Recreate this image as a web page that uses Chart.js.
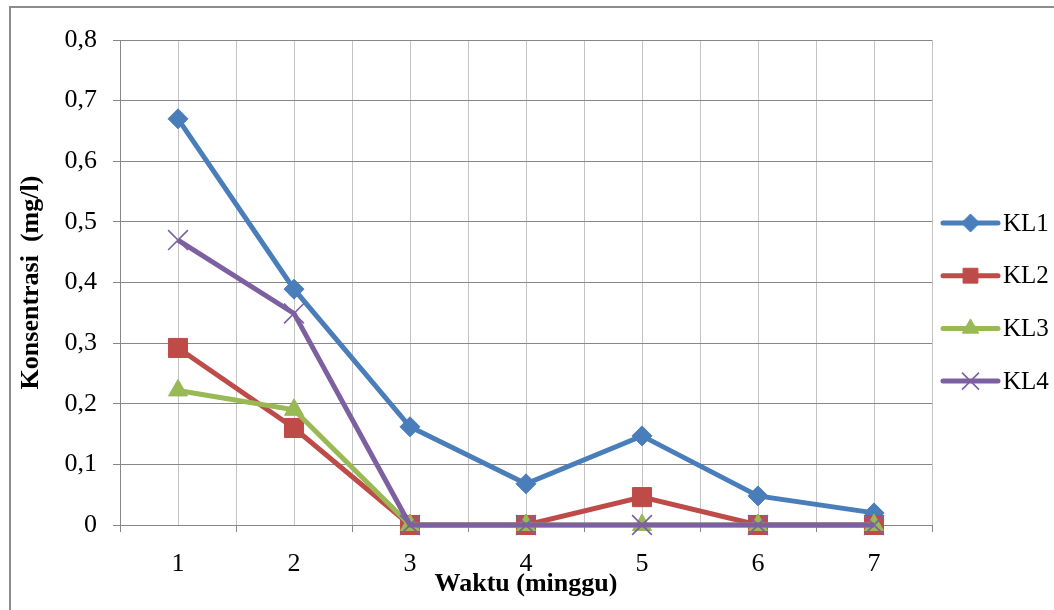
<!DOCTYPE html>
<html>
<head>
<meta charset="utf-8">
<title>Konsentrasi</title>
<script src="https://cdn.jsdelivr.net/npm/chart.js@4.4.1/dist/chart.umd.min.js"></script>
<style>
  html, body { margin: 0; padding: 0; background: #ffffff; }
  #wrap { width: 1054px; height: 610px; position: relative; }
</style>
</head>
<body>
<div id="wrap"><canvas id="chart" width="1054" height="610"></canvas></div>
<script>
// Week numbers along the x axis
const categories = ['1', '2', '3', '4', '5', '6', '7'];

// Concentration per sampling location (mg/l)
const seriesNames = ['KL1', 'KL2', 'KL3', 'KL4'];
const kl1 = [0.67, 0.389, 0.162, 0.068, 0.147, 0.048, 0.02];
const kl2 = [0.292, 0.16, 0, 0, 0.046, 0, 0];
const kl3 = [0.222, 0.19, 0, 0, 0, 0, 0];
const kl4 = [0.47, 0.349, 0, 0, 0, 0, 0];

// Y axis tick labels (comma decimals)
const yTickLabels = ['0', '0,1', '0,2', '0,3', '0,4', '0,5', '0,6', '0,7', '0,8'];

const SERIF = '"Liberation Serif", "Times New Roman", serif';
const AXIS_GRAY = '#878787';
const GRID_LIGHT = '#c4c4c4';

const styles = [
  { color: '#4a7ebb', point: 'rectRot',  radius: 10,   legendRadius: 9,    pbw: 1 },
  { color: '#be4b48', point: 'rect',     radius: 13.5, legendRadius: 10.5, pbw: 1 },
  { color: '#98b954', point: 'triangle', radius: 11,   legendRadius: 9.5,  pbw: 1 },
  { color: '#7d60a0', point: 'crossRot', radius: 14,   legendRadius: 12,   pbw: 1.6 }
];

const seriesValues = [kl1, kl2, kl3, kl4];

const datasets = seriesValues.map((vals, i) => ({
  label: seriesNames[i],
  data: vals.map((v, j) => ({ x: j + 1, y: v })),
  borderColor: styles[i].color,
  backgroundColor: styles[i].color,
  borderWidth: 5,
  pointStyle: styles[i].point,
  pointRadius: styles[i].radius,
  pointBorderWidth: styles[i].pbw,
  pointBorderColor: styles[i].color,
  pointBackgroundColor: styles[i].color,
  pointHoverRadius: styles[i].radius,
  tension: 0,
  clip: false,
  order: seriesValues.length - 1 - i
}));

// Frame line along the top and left of the figure
const framePlugin = {
  id: 'frame',
  beforeDraw(chart) {
    const ctx = chart.ctx;
    ctx.save();
    ctx.fillStyle = '#ffffff';
    ctx.fillRect(0, 0, chart.width, chart.height);
    ctx.strokeStyle = '#8c8c8c';
    ctx.lineWidth = 2;
    ctx.beginPath();
    ctx.moveTo(10, chart.height + 5);
    ctx.lineTo(10, 7);
    ctx.lineTo(chart.width + 5, 7);
    ctx.stroke();
    ctx.restore();
  }
};

// Legend on the right: line sample with marker, then the series name
const legendPlugin = {
  id: 'sideLegend',
  afterDraw(chart) {
    const ctx = chart.ctx;
    const x0 = 943, x1 = 998, textX = 1003;
    const yStart = 223, step = 52.7;
    ctx.save();
    chart.data.datasets.forEach((ds, i) => {
      const y = yStart + i * step;
      ctx.strokeStyle = ds.borderColor;
      ctx.lineWidth = 5;
      ctx.lineCap = 'round';
      ctx.beginPath();
      ctx.moveTo(x0, y);
      ctx.lineTo(x1, y);
      ctx.stroke();
      ctx.fillStyle = ds.pointBackgroundColor;
      ctx.strokeStyle = ds.pointBorderColor;
      ctx.lineWidth = ds.pointBorderWidth;
      ctx.lineCap = 'butt';
      Chart.helpers.drawPoint(ctx, {
        pointStyle: ds.pointStyle,
        radius: styles[i].legendRadius,
        borderWidth: ds.pointBorderWidth,
        rotation: 0
      }, (x0 + x1) / 2, y);
      ctx.fillStyle = '#000000';
      ctx.font = '25px ' + SERIF;
      ctx.textAlign = 'left';
      ctx.textBaseline = 'middle';
      ctx.fillText(ds.label, textX, y + 1);
    });
    ctx.restore();
  }
};

new Chart(document.getElementById('chart'), {
  type: 'line',
  data: { datasets },
  plugins: [framePlugin, legendPlugin],
  options: {
    responsive: false,
    animation: false,
    devicePixelRatio: 1,
    layout: { padding: { top: 40, right: 122, bottom: 0, left: 0 } },
    plugins: {
      legend: { display: false },
      tooltip: { enabled: false },
      title: { display: false }
    },
    scales: {
      x: {
        type: 'linear',
        min: 0.5,
        max: categories.length + 0.5,
        afterFit(scale) { scale.height = 85; },
        ticks: {
          stepSize: 0.5,
          autoSkip: false,
          maxRotation: 0,
          padding: 17,
          color: '#000000',
          font: { family: SERIF, size: 26 },
          callback(value) {
            return Number.isInteger(value) ? categories[value - 1] : '';
          }
        },
        grid: {
          color: GRID_LIGHT,
          lineWidth: 1,
          drawTicks: true,
          tickLength: 7,
          tickWidth: 1,
          tickColor(ctx) {
            return ctx.tick && Number.isInteger(ctx.tick.value) ? 'rgba(0,0,0,0)' : AXIS_GRAY;
          }
        },
        border: { display: true, color: AXIS_GRAY, width: 1 },
        title: {
          display: true,
          text: 'Waktu (minggu)',
          color: '#000000',
          font: { family: SERIF, size: 26, weight: 'bold' },
          padding: { top: 0, bottom: 10 }
        }
      },
      y: {
        min: 0,
        max: 0.8,
        afterFit(scale) { scale.width = 120; },
        ticks: {
          stepSize: 0.1,
          padding: 16,
          color: '#000000',
          font: { family: SERIF, size: 26 },
          callback(value, index) { return yTickLabels[index]; }
        },
        grid: {
          color: AXIS_GRAY,
          lineWidth: 1,
          drawTicks: true,
          tickLength: 7,
          tickColor: AXIS_GRAY
        },
        border: { display: true, color: AXIS_GRAY, width: 1 },
        title: {
          display: true,
          text: 'Konsentrasi  (mg/l)',
          color: '#000000',
          font: { family: SERIF, size: 26, weight: 'bold' },
          padding: { top: 16, bottom: 0 }
        }
      }
    }
  }
});
</script>
</body>
</html>
